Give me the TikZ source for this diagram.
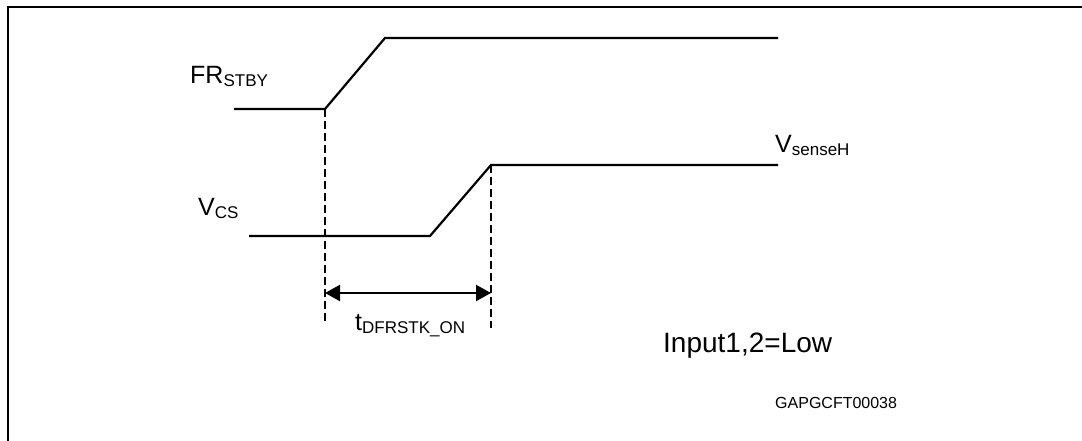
\documentclass[tikz,border=0pt]{standalone}
\usepackage{fontspec}
\setmainfont{Liberation Sans}
\usetikzlibrary{arrows.meta}
\newcommand{\lowtxt}[1]{\raisebox{-3pt}{\fontsize{17}{17}\selectfont #1}}
\tikzset{
  signal/.style={line width=2.2pt, line join=miter},
  guide/.style={line width=2.2pt, dash pattern=on 8pt off 4pt},
  lbl/.style={anchor=base west, inner sep=0pt, font=\fontsize{25}{25}\selectfont}
}
\begin{document}
\begin{tikzpicture}
[x=1pt, y=-1pt]
\useasboundingbox (0,0) rectangle (1082,441);
\draw [line width=2.6pt] (8,441) -- (8,7) -- (1084,7);
\coordinate (frA) at (234,109);
\coordinate (frB) at (325,109);
\coordinate (frC) at (385,38);
\coordinate (frD) at (778,38);
\draw [signal] (frA) -- (frB) -- (frC) -- (frD);
\coordinate (csA) at (249,236);
\coordinate (csB) at (430,236);
\coordinate (csC) at (491,165);
\coordinate (csD) at (778,165);
\draw [signal] (csA) -- (csB) -- (csC) -- (csD);
\coordinate (gl) at (325,324);
\coordinate (gr) at (491,328);
\draw [guide] (frB) -- (gl);
\draw [guide] (csC) -- (gr);
\coordinate (al) at (325,293);
\coordinate (ar) at (491,293);
\draw [line width=2.2pt, {Triangle[length=15pt,width=16pt]}-{Triangle[length=15pt,width=16pt]}] (al) -- (ar);
\node [lbl] (frlbl) at (190,84) {FR\lowtxt{STBY}};
\node [lbl] (cslbl) at (198,215) {V\lowtxt{CS}};
\node [lbl] (shlbl) at (775,153) {V\lowtxt{senseH}};
\node [lbl] (tlbl) at (355,330) {t\lowtxt{DFRSTK\_ON}};
\node [lbl, font=\fontsize{28}{28}\selectfont] (inlbl) at (663,352) {Input1,2=Low};
\node [lbl, font=\fontsize{16}{16}\selectfont] (idlbl) at (775,408) {GAPGCFT00038};
\end{tikzpicture}
\end{document}
